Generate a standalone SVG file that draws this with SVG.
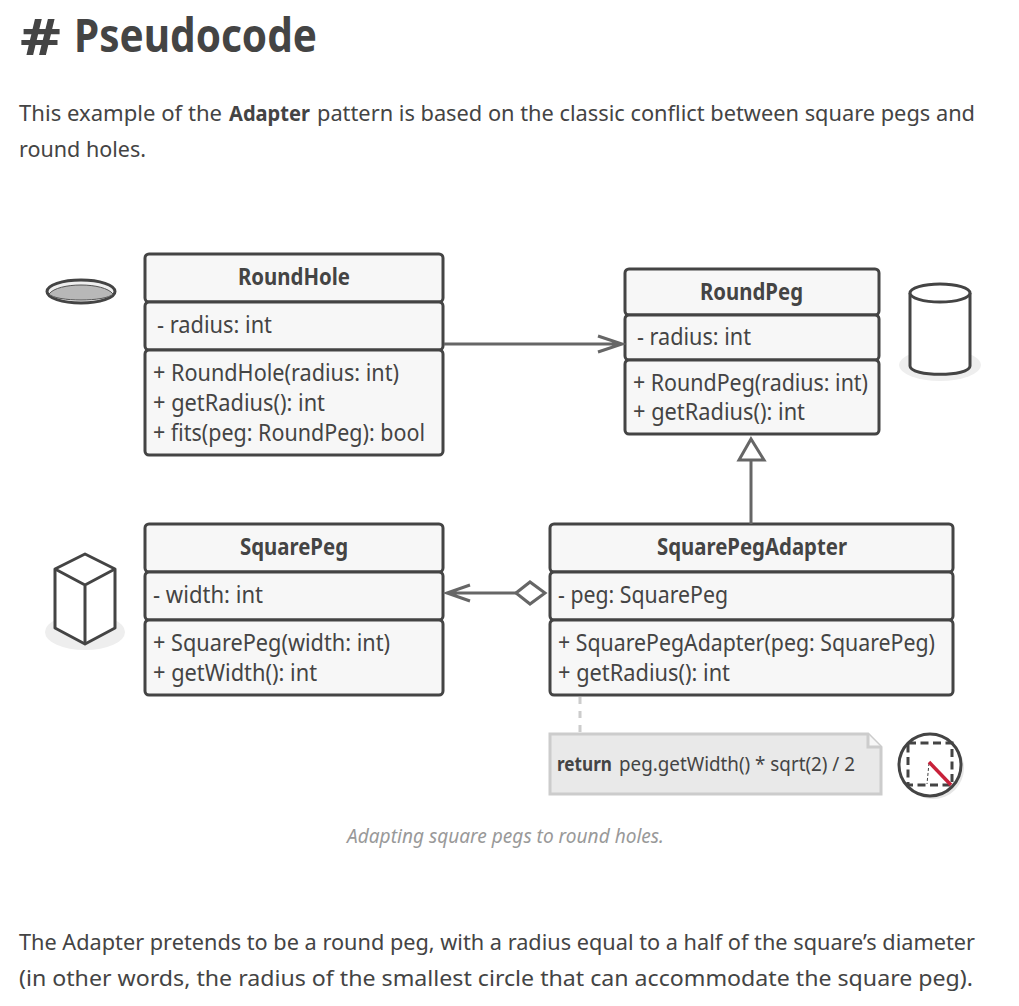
<svg xmlns="http://www.w3.org/2000/svg" width="1019" height="1006" viewBox="0 0 1019 1006">
<style>
text{font-family:"Noto Sans","Open Sans",sans-serif;fill:#444}
.p{font-size:21px}
.b{font-weight:700}
.t{font-size:23.5px;font-weight:700;text-anchor:start}
.m{font-size:23px}
.n{font-size:20px}
.c{font-size:19.5px;font-style:italic;fill:#999}
.box{fill:#f7f7f7;stroke:#444;stroke-width:3}
.ln{fill:none;stroke:#666;stroke-width:3}
.ic{fill:#fff;stroke:#444;stroke-width:3;stroke-linejoin:round}
.sh{fill:#eee}
</style>
<rect width="1019" height="1006" fill="#fff"/>
<g id="page-text">
<text y="52" font-size="46" class="b"><tspan x="20" y="55" font-size="50" textLength="41" lengthAdjust="spacingAndGlyphs">#</tspan> <tspan x="74" y="52" textLength="243" lengthAdjust="spacingAndGlyphs">Pseudocode</tspan></text>
<text class="p" x="19" y="121" textLength="203" lengthAdjust="spacingAndGlyphs">This example of the</text>
<text class="p b" x="229" y="121" textLength="81" lengthAdjust="spacingAndGlyphs">Adapter</text>
<text class="p" x="317" y="121" textLength="658" lengthAdjust="spacingAndGlyphs">pattern is based on the classic conflict between square pegs and</text>
<text class="p" x="19" y="157" textLength="127" lengthAdjust="spacingAndGlyphs">round holes.</text>
<text class="c" x="347" y="843" textLength="317" lengthAdjust="spacingAndGlyphs">Adapting square pegs to round holes.</text>
<text class="p" x="19" y="950" textLength="956" lengthAdjust="spacingAndGlyphs">The Adapter pretends to be a round peg, with a radius equal to a half of the square’s diameter</text>
<text class="p" x="19" y="986" textLength="954" lengthAdjust="spacingAndGlyphs">(in other words, the radius of the smallest circle that can accommodate the square peg).</text>
</g>
<g id="hole-icon">
<ellipse cx="81" cy="291.5" rx="34" ry="11.5" fill="#efefef" stroke="#444" stroke-width="3"/>
<path d="M49 294C58 282 104 282 113 294C106 302 56 302 49 294Z" fill="#b8b8b8" stroke="#555" stroke-width="1"/>
</g>
<g id="RoundHole">
<rect class="box" x="145" y="254" width="298" height="48" rx="4"/>
<rect class="box" x="145" y="302" width="298" height="48" rx="4"/>
<rect class="box" x="145" y="350" width="298" height="105" rx="4"/>
<text class="t" x="238" y="285" textLength="112" lengthAdjust="spacingAndGlyphs">RoundHole</text>
<text class="m" x="157" y="333" textLength="115" lengthAdjust="spacingAndGlyphs">- radius: int</text>
<text class="m" x="153" y="381" textLength="246" lengthAdjust="spacingAndGlyphs">+ RoundHole(radius: int)</text>
<text class="m" x="153" y="411" textLength="172" lengthAdjust="spacingAndGlyphs">+ getRadius(): int</text>
<text class="m" x="153" y="441" textLength="272" lengthAdjust="spacingAndGlyphs">+ fits(peg: RoundPeg): bool</text>
</g>
<g id="RoundPeg">
<rect class="box" x="625" y="269" width="254" height="46" rx="4"/>
<rect class="box" x="625" y="315" width="254" height="45" rx="4"/>
<rect class="box" x="625" y="360" width="254" height="74" rx="4"/>
<text class="t" x="700" y="300" textLength="103" lengthAdjust="spacingAndGlyphs">RoundPeg</text>
<text class="m" x="637" y="345" textLength="114" lengthAdjust="spacingAndGlyphs">- radius: int</text>
<text class="m" x="633" y="391" textLength="235" lengthAdjust="spacingAndGlyphs">+ RoundPeg(radius: int)</text>
<text class="m" x="633" y="420" textLength="172" lengthAdjust="spacingAndGlyphs">+ getRadius(): int</text>
</g>
<g id="cylinder-icon">
<ellipse class="sh" cx="940" cy="365" rx="41" ry="16"/>
<path class="ic" d="M910 293V366C910 377 970 377 970 366V293"/>
<ellipse class="ic" cx="940" cy="293" rx="30" ry="9"/>
</g>
<g id="SquarePeg">
<rect class="box" x="145" y="524" width="298" height="48" rx="4"/>
<rect class="box" x="145" y="572" width="298" height="48" rx="4"/>
<rect class="box" x="145" y="620" width="298" height="75" rx="4"/>
<text class="t" x="240" y="555" textLength="108" lengthAdjust="spacingAndGlyphs">SquarePeg</text>
<text class="m" x="153" y="603" textLength="110" lengthAdjust="spacingAndGlyphs">- width: int</text>
<text class="m" x="153" y="651" textLength="237" lengthAdjust="spacingAndGlyphs">+ SquarePeg(width: int)</text>
<text class="m" x="153" y="681" textLength="164" lengthAdjust="spacingAndGlyphs">+ getWidth(): int</text>
</g>
<g id="cube-icon">
<ellipse class="sh" cx="85" cy="632" rx="40" ry="18"/>
<path class="ic" d="M85 554L115 569V628L85 644L55 628V569Z"/>
<path class="ic" d="M55 569L85 585L115 569M85 585V644" style="fill:none"/>
</g>
<g id="SquarePegAdapter">
<rect class="box" x="550" y="524" width="403" height="48" rx="4"/>
<rect class="box" x="550" y="572" width="403" height="48" rx="4"/>
<rect class="box" x="550" y="620" width="403" height="75" rx="4"/>
<text class="t" x="657" y="555" textLength="190" lengthAdjust="spacingAndGlyphs">SquarePegAdapter</text>
<text class="m" x="558" y="603" textLength="170" lengthAdjust="spacingAndGlyphs">- peg: SquarePeg</text>
<text class="m" x="558" y="651" textLength="377" lengthAdjust="spacingAndGlyphs">+ SquarePegAdapter(peg: SquarePeg)</text>
<text class="m" x="558" y="681" textLength="172" lengthAdjust="spacingAndGlyphs">+ getRadius(): int</text>
</g>
<g id="connectors">
<path class="ln" d="M444 344H621M598 336L622 344L598 352"/>
<path class="ln" d="M751 524V460"/>
<path class="ln" style="fill:#fff" d="M751 439L739 460H764Z"/>
<path class="ln" d="M516 593H447M470 585L447 593L470 601"/>
<path class="ln" style="fill:#fff" d="M516 593L530 582L545 593L530 604Z"/>
<path d="M580 697V733" fill="none" stroke="#ccc" stroke-width="3" stroke-dasharray="7 7"/>
</g>
<g id="note">
<path d="M550 734H868L881 747V794H550Z" fill="#e9e9e9" stroke="#ccc" stroke-width="3"/>
<path d="M868 734V747H881" fill="#f7f7f7" stroke="#ccc" stroke-width="3"/>
<text class="n b" x="557" y="771" textLength="55" lengthAdjust="spacingAndGlyphs">return</text>
<text class="n" x="619" y="771" textLength="236" lengthAdjust="spacingAndGlyphs">peg.getWidth() * sqrt(2) / 2</text>
</g>
<g id="circle-icon">
<circle cx="933" cy="768" r="31" fill="#e6e6e6"/>
<circle cx="930" cy="765" r="31" fill="#fff" stroke="#444" stroke-width="3"/>
<rect x="908" y="743" width="44" height="42" fill="none" stroke="#444" stroke-width="3" stroke-dasharray="8 4.5"/>
<path d="M929 763L927 784" fill="none" stroke="#444" stroke-width="1" stroke-dasharray="3 2"/>
<path d="M929 762L951 785" fill="none" stroke="#c8213a" stroke-width="3.5"/>
</g>
</svg>
